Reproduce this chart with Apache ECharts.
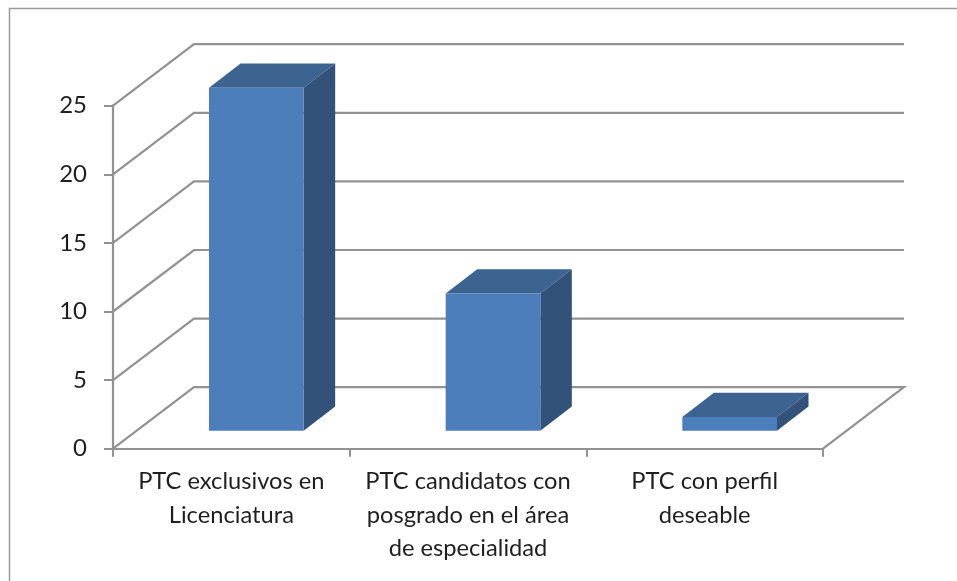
<!DOCTYPE html>
<html>
<head>
<meta charset="utf-8">
<style>
  html, body { margin: 0; padding: 0; background: #fff; }
  #chart { width: 957px; height: 581px; }
</style>
<script src="https://cdn.jsdelivr.net/npm/echarts@6/dist/echarts.min.js"></script>
</head>
<body>
<div id="chart"></div>
<script>
var categories = [
    'PTC exclusivos en\nLicenciatura',
    'PTC candidatos con\nposgrado en el área\nde especialidad',
    'PTC con perfil\ndeseable'
];
var values = [25, 10, 1];
var yTicks = [0, 5, 10, 15, 20, 25];

var lineColor = '#929292';
var textColor = '#1f1f1f';
var fontName = 'Lato';

// depth of the fake 3d box, in px
var wallDx = 81;
var wallDy = -61.5;
var barDx = 31.5;
var barDy = -24.3;
var barShiftX = 25;
var barShiftY = -18;

function renderWall(params, api) {
    var sys = params.coordSys;
    var val = api.value(0);
    var y = api.coord([0, val])[1];
    var left = sys.x;
    var pts = [[left, y], [left + wallDx, y + wallDy], [left + sys.width + wallDx, y + wallDy]];
    if (val === 0) {
        pts.push([left + sys.width, y]);
    }
    return {
        type: 'polyline',
        shape: { points: pts },
        style: { stroke: lineColor, lineWidth: 2.2, fill: null }
    };
}

function renderBar(params, api) {
    var top = api.coord([api.value(0), api.value(1)]);
    var bottom = api.coord([api.value(0), 0]);
    var w = api.size([1, 0])[0] * 0.4;
    var x0 = top[0] - w / 2 + barShiftX;
    var x1 = x0 + w;
    var y0 = top[1] + barShiftY;
    var y1 = bottom[1] + barShiftY;
    return {
        type: 'group',
        children: [
            {
                type: 'polygon',
                shape: { points: [[x0, y0], [x0 + barDx, y0 + barDy], [x1 + barDx, y0 + barDy], [x1, y0]] },
                style: { fill: '#3d6491' }
            },
            {
                type: 'polygon',
                shape: { points: [[x1, y0], [x1 + barDx, y0 + barDy], [x1 + barDx, y1 + barDy], [x1, y1]] },
                style: { fill: '#325279' }
            },
            {
                type: 'rect',
                shape: { x: x0, y: y0, width: w, height: y1 - y0 },
                style: { fill: '#4c7ebb' }
            }
        ]
    };
}

var myChart = echarts.init(document.getElementById('chart'));
myChart.setOption({
    animation: false,
    backgroundColor: '#fff',
    graphic: [{
        type: 'rect',
        shape: { x: 9.5, y: 8.5, width: 1000, height: 700 },
        style: { fill: null, stroke: '#9a9a9a', lineWidth: 1.5 },
        silent: true,
        z: -1
    }],
    grid: { left: 113, top: 105.7, width: 710, height: 343 },
    xAxis: {
        type: 'category',
        data: categories,
        axisLine: { lineStyle: { color: lineColor, width: 2.2 } },
        axisTick: { show: true, alignWithLabel: false, length: 8, lineStyle: { color: lineColor, width: 2 } },
        axisLabel: {
            color: textColor,
            fontFamily: fontName,
            fontSize: 23.7,
            lineHeight: 33.5,
            margin: 16,
            interval: 0
        }
    },
    yAxis: {
        type: 'value',
        min: 0,
        max: 25,
        interval: 5,
        splitLine: { show: false },
        axisLine: { show: true, lineStyle: { color: lineColor, width: 2.2 } },
        axisTick: { show: true, length: 9, lineStyle: { color: lineColor, width: 2 } },
        axisLabel: {
            color: textColor,
            fontFamily: fontName,
            fontSize: 24,
            margin: 26
        }
    },
    series: [
        {
            type: 'custom',
            renderItem: renderWall,
            clip: false,
            silent: true,
            encode: { y: 0 },
            data: yTicks.map(function (t) { return [t]; }),
            z: 1
        },
        {
            type: 'custom',
            renderItem: renderBar,
            clip: false,
            encode: { x: 0, y: 1 },
            data: values.map(function (v, i) { return [i, v]; }),
            z: 2
        }
    ]
});
</script>
</body>
</html>
